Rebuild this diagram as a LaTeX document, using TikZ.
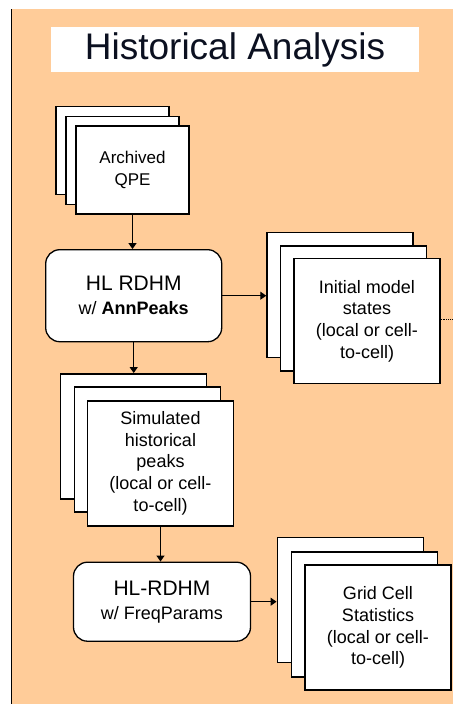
\documentclass[tikz,border=0pt]{standalone}
\usepackage{fontspec}
\setmainfont{Liberation Sans}
\usetikzlibrary{arrows.meta}
\definecolor{bgorange}{HTML}{FFCC99}
\definecolor{titleink}{HTML}{0B1020}
\begin{document}
\begin{tikzpicture}[x=1pt,y=-1pt,
  sheet/.style={draw,fill=white,line width=1.5pt,inner sep=0pt,align=center,
    font=\fontsize{18}{21.7}\selectfont},
  smallsheet/.style={sheet,minimum width=113pt,minimum height=88pt,
    font=\fontsize{17}{22}\selectfont},
  bigsheet/.style={sheet,minimum width=146pt,minimum height=125pt},
  roundbox/.style={draw,fill=white,rounded corners=14pt,line width=1.3pt,
    inner sep=0pt,align=center,font=\fontsize{18}{24}\selectfont},
  flow/.style={line width=1.2pt,-{Triangle[length=6pt,width=8pt]}}]
\useasboundingbox (0,0) rectangle (453,704);
\fill[bgorange] (11.5,9) rectangle (453,704);
\draw[line width=1.2pt] (11.5,9) -- (11.5,704);
\node[fill=white,minimum width=368pt,minimum height=45pt,inner sep=0pt,
  text=titleink,font=\fontsize{37}{40}\selectfont] (title) at (235,49.5) {Historical Analysis};
% Archived QPE stack
\node[smallsheet] (qpe1) at (112.5,150.5) {};
\node[smallsheet] (qpe2) at (122.5,160.5) {};
\node[smallsheet] (qpe3) at (132.5,170) {Archived\\QPE};
% HL RDHM w/ AnnPeaks
\node[roundbox,minimum width=176pt,minimum height=92pt] (hl1) at (133.7,295.7)
  {{\fontsize{21}{24}\selectfont HL RDHM}\\w/ \textbf{AnnPeaks}};
% Initial model states stack
\node[bigsheet] (ims1) at (340,295) {};
\node[bigsheet] (ims2) at (353.5,308.5) {};
\node[bigsheet] (ims3) at (367,321) {Initial model\\states\\(local or cell-\\to-cell)};
% Simulated historical peaks stack
\node[bigsheet] (sim1) at (133.5,436.3) {};
\node[bigsheet] (sim2) at (147.5,449.5) {};
\node[bigsheet] (sim3) at (160.5,463.3) {Simulated\\historical\\peaks\\(local or cell-\\to-cell)};
% HL-RDHM w/ FreqParams
\node[roundbox,minimum width=177pt,minimum height=79pt] (hl2) at (162,601.7)
  {{\fontsize{21}{24}\selectfont HL-RDHM}\\w/ FreqParams};
% Grid Cell Statistics stack
\node[bigsheet] (grid1) at (350.3,600) {};
\node[bigsheet] (grid2) at (364.7,614.5) {};
\node[bigsheet] (grid3) at (378,627.5) {Grid Cell\\Statistics\\(local or cell-\\to-cell)};
% connectors
\draw[flow] (qpe3.south) -- (qpe3.south |- hl1.north);
\draw[flow] (hl1.east) -- (hl1.east -| ims1.west);
\draw[flow] (hl1.south) -- (hl1.south |- sim1.north);
\draw[flow] (sim3.south) -- (sim3.south |- hl2.north);
\draw[flow] (hl2.east) -- (hl2.east -| grid1.west);
\coordinate (stubend) at (453,319);
\draw[line width=0.8pt,densely dotted] (ims3.east |- stubend) -- (stubend);
\end{tikzpicture}
\end{document}
